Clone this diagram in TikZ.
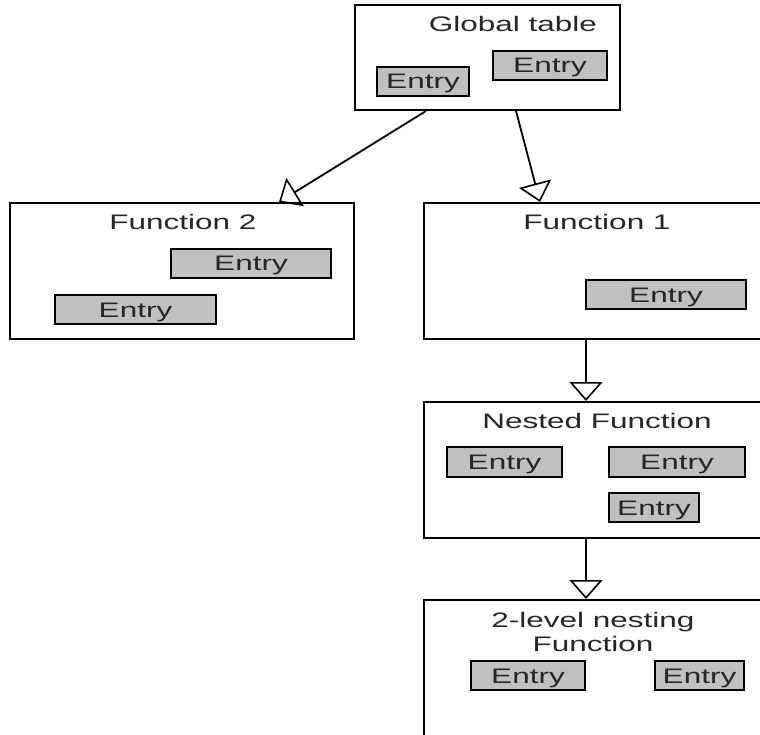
\documentclass[tikz,border=0pt]{standalone}
\usepackage{fontspec}
\setmainfont[FakeStretch=1.5]{Liberation Sans}
\usetikzlibrary{arrows.meta}

\definecolor{entrygray}{HTML}{C0C0C0}
\tikzset{
  scopebox/.style={draw=black, line width=2pt, fill=white, rectangle, inner sep=0pt},
  entrybox/.style={draw=black, line width=1.7pt, fill=entrygray, rectangle, inner sep=0pt,
                   minimum height=29pt, text height=15pt, text depth=0pt,
                   font=\fontsize{21}{23}\selectfont, text=black!85},
  boxtitle/.style={inner sep=0pt, text height=15pt, text depth=0pt,
                   font=\fontsize{21}{23}\selectfont, text=black!85},
  link/.style={draw=black, line width=1.8pt,
               -{Triangle[open, length=19pt, width=33pt, line width=1.6pt]}}
}

\begin{document}
\begin{tikzpicture}[x=1pt, y=-1pt]
  \useasboundingbox (0,0) rectangle (760,735);
  \clip (0,0) rectangle (760,735);

  % global scope
  \node[scopebox, minimum width=265pt, minimum height=105pt] (gt) at (487.5,57.5) {};
  \node[boxtitle] (gtT) at (513,24.5) {Global table};
  \node[entrybox, minimum width=92pt]  (gtE1) at (423,81.5) {Entry};
  \node[entrybox, minimum width=114pt] (gtE2) at (550,65.5) {Entry};

  % function 2
  \node[scopebox, minimum width=344pt, minimum height=136pt] (f2) at (182,271) {};
  \node[boxtitle] (f2T) at (183,222.5) {Function 2};
  \node[entrybox, minimum width=160pt] (f2E1) at (251,263.5) {Entry};
  \node[entrybox, minimum width=161pt] (f2E2) at (135.5,309.5) {Entry};

  % function 1
  \node[scopebox, minimum width=351pt, minimum height=136pt] (f1) at (599.5,271) {};
  \node[boxtitle] (f1T) at (597,222.5) {Function 1};
  \node[entrybox, minimum width=160pt] (f1E1) at (666,294.5) {Entry};

  % nested function
  \node[scopebox, minimum width=351pt, minimum height=136pt] (nf) at (599.5,470) {};
  \node[boxtitle] (nfT) at (597,420.5) {Nested Function};
  \node[entrybox, minimum width=115pt, minimum height=30pt] (nfE1) at (504.5,462) {Entry};
  \node[entrybox, minimum width=136pt, minimum height=30pt] (nfE2) at (677,462) {Entry};
  \node[entrybox, minimum width=90pt] (nfE3) at (654,507.5) {Entry};

  % two-level nesting
  \node[scopebox, minimum width=351pt, minimum height=160pt] (lv) at (599.5,680) {};
  \node[boxtitle] (lvT1) at (593,620) {2-level nesting};
  \node[boxtitle] (lvT2) at (593,644) {Function};
  \node[entrybox, minimum width=114pt] (lvE1) at (528,675.5) {Entry};
  \node[entrybox, minimum width=89pt]  (lvE2) at (699.5,675.5) {Entry};

  % scope links
  \draw[link] ([xshift=72pt]gt.south west) -- ([xshift=270pt]f2.north west);
  \draw[link] ([xshift=162pt]gt.south west) -- ([xshift=117pt]f1.north west);
  \draw[link] ([xshift=163pt]f1.south west) -- ([xshift=163pt]nf.north west);
  \draw[link] ([xshift=163pt]nf.south west) -- ([xshift=163pt]lv.north west);
\end{tikzpicture}
\end{document}
